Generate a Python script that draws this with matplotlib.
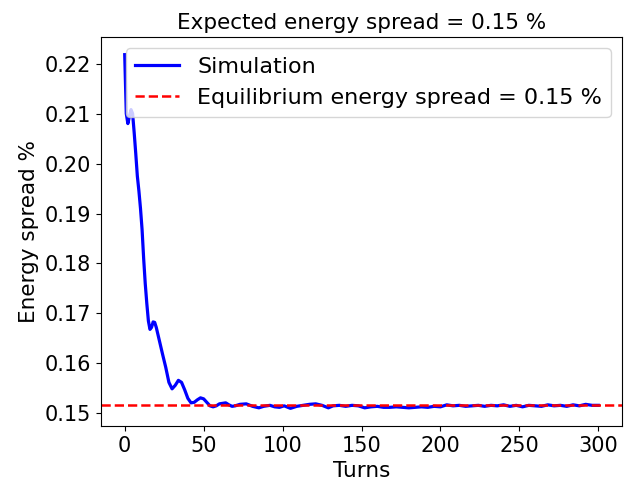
import numpy as np
import matplotlib
matplotlib.use("Agg")
from matplotlib import pyplot as plt

plt.rcParams['font.size'] = 15

# energy spread (%), per turn
turns = [0, 1, 2, 3, 4, 5, 6, 7, 8, 9, 10, 11, 12, 13, 14, 15, 16, 17, 18, 19,
         20, 22, 24, 26, 28, 30, 32, 34, 36, 38, 40, 42, 44, 46, 48, 50, 52, 54,
         56, 58, 60, 62, 64, 66, 68, 70, 73, 77, 81, 85, 88, 92, 95, 98, 101,
         105, 109, 113, 117, 121, 125, 129, 132, 136, 140, 144, 148, 152, 156,
         160, 164, 168, 172, 176, 180, 184, 188, 192, 196, 200, 204, 208, 212,
         216, 220, 224, 228, 232, 236, 240, 244, 248, 252, 256, 260, 264, 268,
         272, 276, 280, 284, 288, 292, 296, 300]
spread = [0.2218, 0.2100, 0.2080, 0.2095, 0.2108, 0.2100, 0.2062, 0.2020,
          0.1975, 0.1945, 0.1910, 0.1868, 0.1810, 0.1760, 0.1720, 0.1685,
          0.1668, 0.1672, 0.1683, 0.1682, 0.1672, 0.1645, 0.1618, 0.1592,
          0.1562, 0.1549, 0.1556, 0.1566, 0.1562, 0.1547, 0.1530, 0.1521,
          0.1522, 0.1527, 0.1531, 0.1529, 0.1522, 0.1515, 0.1513, 0.1515,
          0.1519, 0.1520, 0.1521, 0.1517, 0.1514, 0.1515, 0.1518, 0.1519,
          0.1514, 0.1511, 0.1514, 0.1516, 0.1513, 0.1512, 0.1515, 0.1510,
          0.1514, 0.1516, 0.1518, 0.1519, 0.1516, 0.1511, 0.1515, 0.1516,
          0.1514, 0.1516, 0.1515, 0.1511, 0.1513, 0.1514, 0.1512, 0.1512,
          0.1513, 0.1512, 0.1511, 0.1512, 0.1513, 0.1512, 0.1514, 0.1513,
          0.1517, 0.1515, 0.1516, 0.1514, 0.1515, 0.1516, 0.1514, 0.1516,
          0.1515, 0.1517, 0.1514, 0.1516, 0.1513, 0.1516, 0.1515, 0.1514,
          0.1517, 0.1515, 0.1516, 0.1514, 0.1517, 0.1515, 0.1518, 0.1516,
          0.1516]
equilibrium = 0.15166

fig = plt.figure(figsize=(6.33, 4.84), dpi=100)
ax = fig.add_subplot(111)
fig.subplots_adjust(left=0.1596, right=0.9826, top=0.9236, bottom=0.1198)

ax.plot(turns, spread, 'b', linewidth=2.3, label='Simulation')
ax.axhline(equilibrium, color='r', linestyle='--', linewidth=1.8,
           label='Equilibrium energy spread = 0.15 %')

ax.set_title('Expected energy spread = 0.15 %', fontsize=15.5)
ax.set_xlabel('Turns', fontsize=15.5)
ax.set_ylabel('Energy spread %', fontsize=15.5)
ax.tick_params(labelsize=15)
ax.legend(loc='upper right', fontsize=16)

plt.savefig('out.png', dpi=100)
